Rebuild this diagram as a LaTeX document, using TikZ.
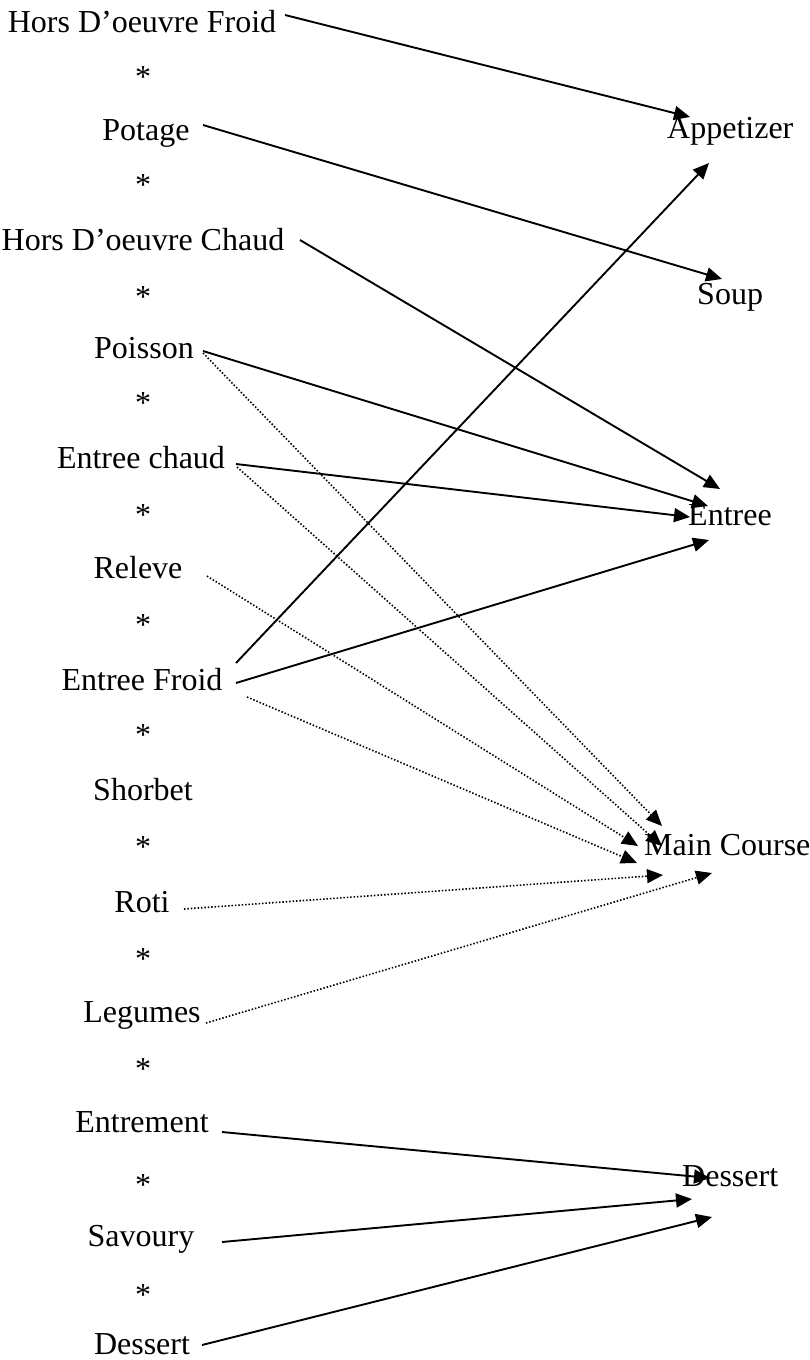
\documentclass[tikz,border=0pt]{standalone}
\usepackage{fontspec}
\setmainfont{Liberation Serif}
\usetikzlibrary{arrows.meta}
\begin{document}
\begin{tikzpicture}[x=1pt,y=-1pt,
  lbl/.style={anchor=base,inner sep=0pt,font=\fontsize{32}{36}\selectfont},
  rlbl/.style={anchor=base west,inner sep=0pt,font=\fontsize{32}{36}\selectfont},
  arr/.style={line width=1.9pt,-{Triangle[length=16pt,width=14pt]}},
  darr/.style={line width=1.6pt,dash pattern=on 1.5pt off 1.9pt,-{Triangle[length=16pt,width=14pt]}}]
\useasboundingbox (0,0) rectangle (809,1360);
% left column
\node[lbl] (hf)  at (142,32)   {Hors D’oeuvre Froid};
\node[lbl] (s1)  at (143,87)   {*};
\node[lbl] (pot) at (146,140)  {Potage};
\node[lbl] (s2)  at (143,195)  {*};
\node[lbl] (hc)  at (143,250)  {Hors D’oeuvre Chaud};
\node[lbl] (s3)  at (143,307)  {*};
\node[lbl] (poi) at (144,358)  {Poisson};
\node[lbl] (s4)  at (143,413)  {*};
\node[lbl] (ec)  at (141,468)  {Entree chaud};
\node[lbl] (s5)  at (143,525)  {*};
\node[lbl] (rel) at (138,578)  {Releve};
\node[lbl] (s6)  at (143,635)  {*};
\node[lbl] (ef)  at (142,690)  {Entree Froid};
\node[lbl] (s7)  at (143,745)  {*};
\node[lbl] (sho) at (143,800)  {Shorbet};
\node[lbl] (s8)  at (143,857)  {*};
\node[lbl] (rot) at (142,912)  {Roti};
\node[lbl] (s9)  at (143,969)  {*};
\node[lbl] (leg) at (142,1022) {Legumes};
\node[lbl] (s10) at (143,1079) {*};
\node[lbl] (ent) at (142,1132) {Entrement};
\node[lbl] (s11) at (143,1195) {*};
\node[lbl] (sav) at (141,1246) {Savoury};
\node[lbl] (s12) at (143,1305) {*};
\node[lbl] (des) at (142,1354) {Dessert};
% right column
\node[rlbl] (app)  at (667,138)  {Appetizer};
\node[rlbl] (soup) at (697,304)  {Soup};
\node[rlbl] (entr) at (688,525)  {Entree};
\node[rlbl] (main) at (644,855)  {Main Course};
\node[rlbl] (dess) at (682,1186) {Dessert};
% solid connectors
\draw[arr] ([shift={(143,-17)}]hf.base) -- ([shift={(23,-21)}]app.base west);
\draw[arr] ([shift={(57,-15)}]pot.base) -- ([shift={(25,-25)}]soup.base west);
\draw[arr] ([shift={(157,-10)}]hc.base) -- ([shift={(32,-36)}]entr.base west);
\draw[arr] ([shift={(59,-7)}]poi.base) -- ([shift={(20,-19)}]entr.base west);
\draw[arr] ([shift={(95,-4)}]ec.base) -- ([shift={(2,-8)}]entr.base west);
\draw[arr] ([shift={(94,-27)}]ef.base) -- ([shift={(42,25)}]app.base west);
\draw[arr] ([shift={(94,-7)}]ef.base) -- ([shift={(21,15)}]entr.base west);
\draw[arr] ([shift={(80,0)}]ent.base) -- ([shift={(28,-8)}]dess.base west);
\draw[arr] ([shift={(81,-4)}]sav.base) -- ([shift={(10,13)}]dess.base west);
\draw[arr] ([shift={(60,-9)}]des.base) -- ([shift={(30,31)}]dess.base west);
% dotted connectors
\draw[darr] ([shift={(59,-5)}]poi.base) -- ([shift={(18,-29)}]main.base west);
\draw[darr] ([shift={(96,-1)}]ec.base) -- ([shift={(18,-9)}]main.base west);
\draw[darr] ([shift={(69,-2)}]rel.base) -- ([shift={(-6,-9)}]main.base west);
\draw[darr] ([shift={(105,7)}]ef.base) -- ([shift={(-7,8)}]main.base west);
\draw[darr] ([shift={(42,-3)}]rot.base) -- ([shift={(19,20)}]main.base west);
\draw[darr] ([shift={(64,1)}]leg.base) -- ([shift={(68,18)}]main.base west);
\end{tikzpicture}
\end{document}
